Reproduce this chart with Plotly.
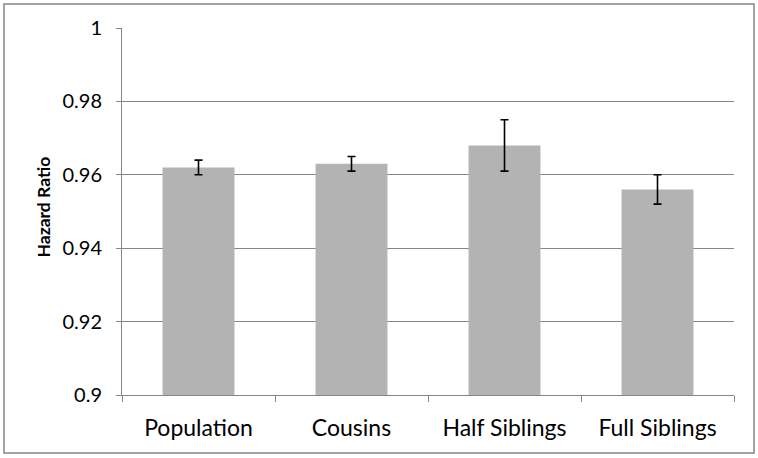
import plotly.graph_objects as go

categories = ["Population", "Cousins", "Half Siblings", "Full Siblings"]
hazard_ratio = [0.962, 0.963, 0.968, 0.956]
error = [0.002, 0.002, 0.007, 0.004]
tick_vals = [0.9, 0.92, 0.94, 0.96, 0.98, 1.0]
tick_text = ["0.9", "0.92", "0.94", "0.96", "0.98", "1"]
y_title = "Hazard Ratio"

fig = go.Figure(go.Bar(
    x=categories, y=hazard_ratio,
    marker=dict(color="#b3b3b3", line=dict(width=0)),
    error_y=dict(type="data", array=error, visible=True, color="black", thickness=1.6, width=4),
    width=0.47,
))

font_family = "Lato"
fig.update_layout(
    width=758, height=458,
    margin=dict(l=122, r=24, t=28, b=63),
    paper_bgcolor="white", plot_bgcolor="white",
    showlegend=False,
    font=dict(family=font_family, color="black", size=18),
    xaxis=dict(
        showline=True, linecolor="#868686", linewidth=1,
        ticks="outside", ticklen=6, tickcolor="#868686",
        tickson="boundaries", showgrid=False,
        tickfont=dict(size=23), ticklabelstandoff=12,
    ),
    yaxis=dict(
        range=[0.9, 1.0], tickvals=tick_vals, ticktext=tick_text,
        showline=True, linecolor="#868686", linewidth=1,
        ticks="outside", ticklen=5, tickcolor="#868686",
        showgrid=True, gridcolor="#868686", gridwidth=1,
        zeroline=False, tickfont=dict(size=20), ticklabelstandoff=10,
    ),
    annotations=[dict(
        text="<b>" + y_title + "</b>", textangle=-90,
        xref="paper", yref="paper",
        x=(43 - 122) / 612, y=(395 - 206.5) / 367,
        xanchor="center", yanchor="middle", showarrow=False,
        font=dict(size=17.5, color="black"),
    )],
    shapes=[dict(
        type="rect", xref="paper", yref="paper",
        x0=(4 - 122) / 612, x1=(754 - 122) / 612,
        y0=(395 - 453) / 367, y1=(395 - 4) / 367,
        line=dict(color="#868686", width=1.5), layer="below",
    )],
)

fig.write_html("out.html", config={"displayModeBar": False},
               post_script="document.body.style.margin='0';")
